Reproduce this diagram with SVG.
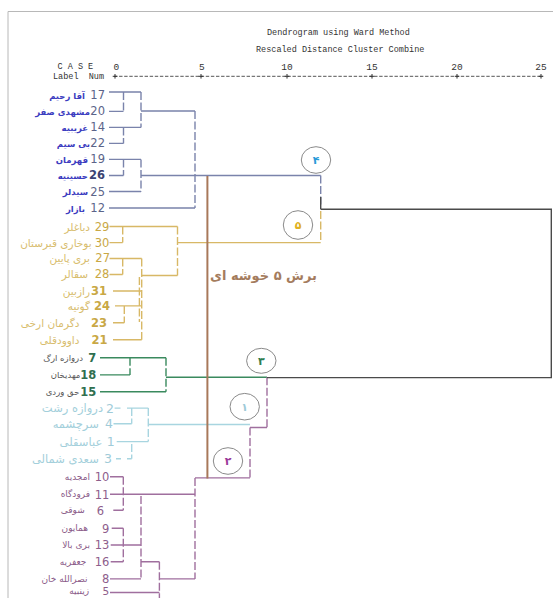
<svg xmlns="http://www.w3.org/2000/svg" width="553" height="598" viewBox="0 0 553 598">
<style>
.mono{font-family:"Liberation Mono","DejaVu Sans Mono",monospace;font-size:8.5px;fill:#333}
.ax{font-family:"Liberation Mono",monospace;font-size:9.5px;fill:#333;text-anchor:middle}
.num{font-family:"DejaVu Sans",sans-serif;font-size:11.5px;text-anchor:end}
.b{font-weight:bold}
.lab{font-family:"DejaVu Sans",sans-serif;text-anchor:end}
.c4 .num{fill:#5b6489}.c4 .lab{fill:#3c3cc0;font-size:8.5px;font-weight:bold}
.c5 .num{fill:#c9a845}.c5 .lab{fill:#d8bd6e;font-size:10.5px}
.c3 .num{fill:#2f6f4f}.c3 .lab{fill:#555;font-size:8.5px}
.c1 .num{fill:#9fcbd8;font-size:12.5px}.c1 .lab{fill:#a3cfdb;font-size:11.5px}
.c2 .num{fill:#8e5e8c;font-size:11.5px}.c2 .lab{fill:#8a5a88;font-size:9px}
.ln{fill:none;stroke-width:1.4}
.d{stroke-dasharray:8 2.5}
.l4{stroke:#7a83ab}.l5{stroke:#d8b866}.l3{stroke:#3a8a5e}.l1{stroke:#a8d5e0}.l2{stroke:#a06f9e}.lk{stroke:#4a4a4a}
.circ ellipse{fill:none;stroke:#8a8a8a;stroke-width:1}
.circ text{font-family:"DejaVu Sans",sans-serif;font-size:11px;text-anchor:middle;font-weight:bold}
</style>
<path d="M8 598 V11.5 H553" fill="none" stroke="#b8b8b8" stroke-width="1"/>
<g id="header">
<text class="mono" x="267" y="35">Dendrogram using Ward Method</text>
<text class="mono" x="256" y="52">Rescaled Distance Cluster Combine</text>
<text class="mono" x="57.5" y="69" xml:space="preserve">C A S E</text>
<text class="mono" x="53" y="78.5" xml:space="preserve">Label  Num</text>
<text class="ax" x="116.4" y="70">0</text>
<text class="ax" x="201.8" y="70">5</text>
<text class="ax" x="287" y="70">10</text>
<text class="ax" x="372" y="70">15</text>
<text class="ax" x="457" y="70">20</text>
<text class="ax" x="541" y="70">25</text>
<path d="M114 76.3 H543" stroke="#555" stroke-width="1" stroke-dasharray="3.4 1.7"/>
<path d="M115 74 V78.6 M201 74 V78.6 M287 74 V78.6 M372 74 V78.6 M457 74 V78.6 M541 74 V78.6 M112.7 76.3 H117.3 M198.7 76.3 H203.3 M284.7 76.3 H289.3 M369.7 76.3 H374.3 M454.7 76.3 H459.3 M538.7 76.3 H543.3" stroke="#333" stroke-width="1"/>
</g>
<g id="connectors">
<path class="ln l4" d="M109 92 H141 M109 111.4 H123.5 M109 127.4 H141 M109 143.4 H123.5 M141 111 H195 M109 208 H195 M109 159.4 H141 M109 175.5 H123.5 M109 191.5 H141 M141 175.5 H320.7"/>
<path class="ln l4 d" d="M123.5 92 V111.4 M141 92 V127.4 M123.5 127.4 V143.4 M195 111 V208 M123.5 159.4 V175.5 M141 159.4 V191.5 M320.7 175.5 V205"/>
<path class="ln l5" d="M109.5 226.5 H177.5 M109.5 242.6 H122.7 M177.5 242.6 H320.7 M109.5 258.5 H141.7 M109.5 274.5 H122.7 M141.7 275.5 H177.5 M113 291 H141 M115 305.9 H141.7 M113 322.7 H124.3 M113 339.8 H141.7"/>
<path class="ln l5 d" d="M122.7 226.5 V242.6 M177.5 226.5 V275.5 M122.7 258.5 V274.5 M141.7 258.5 V339.8 M139.4 277 V322 M124.3 305.9 V322.7 M320.7 211 V242.6"/>
<path class="ln l3" d="M100 357.7 H166 M100 374.9 H130 M100 391.7 H166"/>
<path class="ln l3" stroke-width="2" d="M166 377.3 H267"/>
<path class="ln l3 d" d="M130 357.7 V374.9 M166 357.7 V391.7"/>
<path class="ln l1" d="M114.6 408.1 H120.5 M127 408.1 H148.3 M113.5 423.7 H131.7 M116.7 441.6 H148.3 M148.3 424.5 H250 M116 458.8 H121 M127 458.8 H131.7"/>
<path class="ln l1 d" d="M131.7 408.1 V423.7 M148.3 408.1 V441.6 M131.7 444 V458.8"/>
<path class="ln l2" d="M110 476.7 H123.3 M110 494.3 H195 M113.3 510.3 H123.3 M111.7 528.2 H123.3 M110.7 545 H141 M110.7 561.8 H123.3 M141 561.8 H159.4 M110 578.9 H141 M159.4 578.9 H195 M110 592.5 H159.4 M195 477.9 H250 M250 427.5 H267"/>
<path class="ln l2 d" d="M123.3 476.7 V510.3 M123.3 528.2 V561.8 M141 496 V578.9 M159.4 561.8 V598 M195 477.9 V578.9 M250 427.5 V477.9 M267 377.3 V427.5"/>
<path class="ln lk" d="M320.7 209.3 H551.3 V377.6 H267 M320.7 197 V209.3"/>
<path d="M207.4 176 V478.6" fill="none" stroke="#a8785a" stroke-width="2"/>
</g>
<g id="cut-label"><text x="263.5" y="279.5" font-family="DejaVu Sans,sans-serif" font-size="13" font-weight="bold" fill="#a47c5e" text-anchor="middle">برش ۵ خوشه ای</text></g>
<g id="circle-4" class="circ"><ellipse cx="316" cy="160" rx="14.7" ry="13.3"/><text x="316" y="164" fill="#2a9ad8">۴</text></g>
<g id="circle-5" class="circ"><ellipse cx="298" cy="225" rx="14.7" ry="14.3"/><text x="298" y="229" fill="#e0b020">۵</text></g>
<g id="circle-3" class="circ"><ellipse cx="261.3" cy="360.8" rx="14.7" ry="12.5"/><text x="261.3" y="365" fill="#2e7d4e">۳</text></g>
<g id="circle-1" class="circ"><ellipse cx="244.7" cy="406.7" rx="14.7" ry="13.3"/><text x="244.7" y="411" fill="#9fcbd8">۱</text></g>
<g id="circle-2" class="circ"><ellipse cx="228" cy="461" rx="14.7" ry="13.3"/><text x="228" y="465" fill="#9a3a9a">۲</text></g>
<g id="cluster4" class="c4">
<g id="case-17"><text class="lab" x="85" y="98.5">آقا رحیم</text><text class="num" x="105" y="99">17</text></g>
<g id="case-20"><text class="lab" x="90" y="115">مشهدی صفر</text><text class="num" x="105" y="115.4">20</text></g>
<g id="case-14"><text class="lab" x="88" y="131">غریبیه</text><text class="num" x="105" y="131.4">14</text></g>
<g id="case-22"><text class="lab" x="90" y="147">بی سیم</text><text class="num" x="105" y="147.4">22</text></g>
<g id="case-19"><text class="lab" x="88" y="163">قهرمان</text><text class="num" x="105" y="163.4">19</text></g>
<g id="case-26"><text class="lab" x="88" y="178.5">حسینیه</text><text class="num b" x="105" y="179" style="fill:#3b4372">26</text></g>
<g id="case-25"><text class="lab" x="88" y="195">سیدلر</text><text class="num" x="105" y="195.5">25</text></g>
<g id="case-12"><text class="lab" x="85" y="211.5">بازار</text><text class="num" x="105" y="212">12</text></g>
</g>
<g id="cluster5" class="c5">
<g id="case-29"><text class="lab" x="90" y="230.5">دباغلر</text><text class="num" x="109.3" y="230.5">29</text></g>
<g id="case-30"><text class="lab" x="91.7" y="246.6">بوخاری قبرستان</text><text class="num" x="109.3" y="246.6">30</text></g>
<g id="case-27"><text class="lab" x="90" y="262.2">بری پایین</text><text class="num" x="110" y="262.2">27</text></g>
<g id="case-28"><text class="lab" x="88" y="278.2">سقالر</text><text class="num" x="109.3" y="278.2">28</text></g>
<g id="case-31"><text class="lab" x="90" y="294.6">رازبین</text><text class="num b" x="107" y="294.6">31</text></g>
<g id="case-24"><text class="lab" x="90" y="309.9">گونیه</text><text class="num b" x="110" y="309.9">24</text></g>
<g id="case-23"><text class="lab" x="79.4" y="326.7">دگرمان ارخی</text><text class="num b" x="107" y="326.7">23</text></g>
<g id="case-21"><text class="lab" x="79.4" y="343.8">داوودقلی</text><text class="num b" x="107.6" y="343.8">21</text></g>
</g>
<g id="cluster3" class="c3">
<g id="case-7"><text class="lab" x="83" y="361">دروازه ارگ</text><text class="num b" x="96.3" y="361.7">7</text></g>
<g id="case-18"><text class="lab" x="80.4" y="378">مهدیخان</text><text class="num b" x="96.3" y="378.9">18</text></g>
<g id="case-15"><text class="lab" x="79.4" y="395">حق وردی</text><text class="num b" x="96.3" y="395.7">15</text></g>
</g>
<g id="cluster1" class="c1">
<g id="case-2"><text class="lab" x="103" y="412.1">دروازه رشت</text><text class="num" x="114" y="412.6">2</text></g>
<g id="case-4"><text class="lab" x="98.8" y="427.7">سرچشمه</text><text class="num" x="113" y="428.2">4</text></g>
<g id="case-1"><text class="lab" x="102.3" y="445.6">عباسقلی</text><text class="num" x="114.6" y="446.1">1</text></g>
<g id="case-3"><text class="lab" x="98.8" y="462.8">سعدی شمالی</text><text class="num" x="112" y="463.3">3</text></g>
</g>
<g id="cluster2" class="c2">
<g id="case-10"><text class="lab" x="90" y="479.7">امجدیه</text><text class="num" x="109.3" y="481">10</text></g>
<g id="case-11"><text class="lab" x="90" y="497.3">فرودگاه</text><text class="num" x="109.3" y="498.6">11</text></g>
<g id="case-6"><text class="lab" x="84.7" y="513.3">شوقی</text><text class="num" x="104" y="514.6">6</text></g>
<g id="case-9"><text class="lab" x="88" y="531.2">همایون</text><text class="num" x="109.3" y="532.5">9</text></g>
<g id="case-13"><text class="lab" x="90" y="548">بری بالا</text><text class="num" x="109.3" y="549.3">13</text></g>
<g id="case-16"><text class="lab" x="86.4" y="564.8">جعفریه</text><text class="num" x="109.3" y="566.1">16</text></g>
<g id="case-8"><text class="lab" x="87.5" y="581.5">نصرالله خان</text><text class="num" x="109.3" y="582.5">8</text></g>
<g id="case-5"><text class="lab" x="89" y="594">زینبیه</text><text class="num" x="109.3" y="595.3" style="font-size:10.5px">5</text></g>
</g>
</svg>
